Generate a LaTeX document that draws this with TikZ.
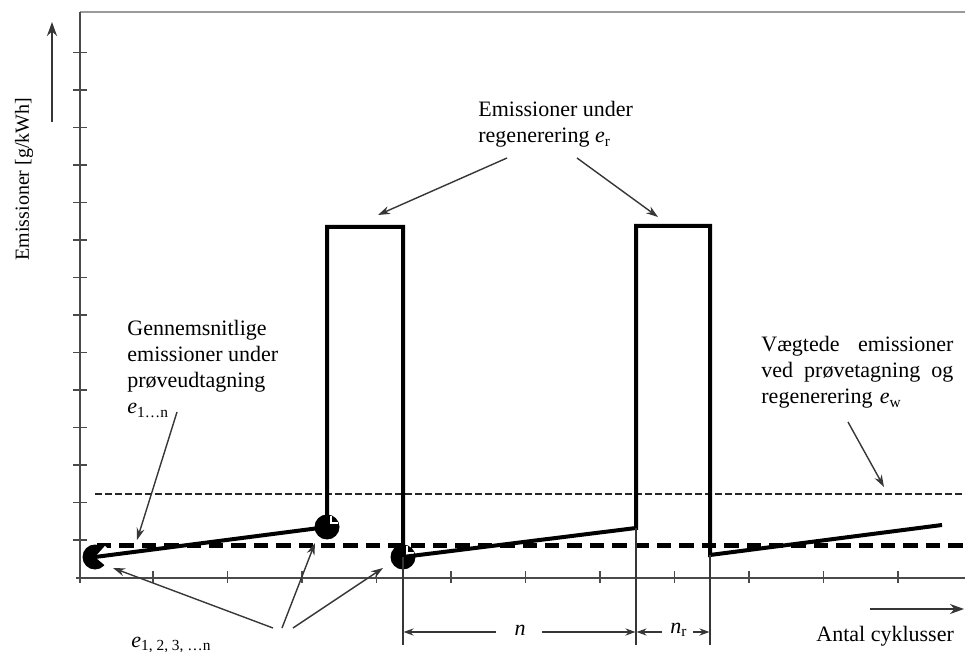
\documentclass[tikz,border=0pt]{standalone}
\usepackage{fontspec}
\setmainfont{Liberation Serif}
\usetikzlibrary{arrows.meta}
\definecolor{axisgray}{HTML}{4A4A4A}
\definecolor{thingray}{HTML}{363636}
\definecolor{framegray}{HTML}{9A9A9A}
\newcommand{\lblfont}{\fontsize{11pt}{13pt}\selectfont}
\tikzset{
  axisline/.style={draw=axisgray,line width=1pt},
  frameline/.style={draw=framegray,line width=0.6pt},
  tickline/.style={draw=axisgray,line width=0.55pt},
  curve/.style={draw=black,line width=2pt,line join=miter},
  meanline/.style={draw=black,line width=2.5pt,dash pattern=on 7.2pt off 4pt},
  weightline/.style={draw=black!85,line width=1.2pt,dash pattern=on 3.4pt off 1.6pt},
  pointer/.style={draw=thingray,line width=0.7pt,-{Stealth[length=6pt,width=4pt]}},
  dimline/.style={draw=thingray,line width=0.55pt},
  dimarrow/.style={draw=thingray,line width=0.6pt,-{Stealth[length=5pt,width=3.6pt]}},
  % labels are placed by a baseline: the last line for free multi-line text,
  % the first line for text set to a fixed width
  txtlabel/.style={font=\lblfont,inner sep=0pt,align=left,anchor=base west},
  % sample point at the start of the series: disc with an opening to the right
  pics/startdot/.style={code={
    \fill[black] (0,0) circle[radius=12.5];
    \fill[white] (0,0) -- (-48:15) arc[start angle=-48,end angle=40,radius=15] -- cycle;
  }},
  % sample point at a corner of the curve: disc with a white corner mark
  pics/cornerdot/.style={code={
    \fill[black] (0,0) circle[radius=12.5];
    \draw[white,line width=1.3pt] (3.8,-11) -- (3.8,-3.8) -- (11,-3.8);
  }},
}
\begin{document}
\begin{tikzpicture}[x=0.5pt,y=-0.5pt]
  \fill[white] (0,0) rectangle (965,652);
  \useasboundingbox (0,0) rectangle (965,652);

  % frame and axes
  \draw[frameline] (80,12) -- (965,12);
  \draw[axisline] (80,12) -- (80,583);
  \draw[axisline] (76,578) -- (965,578);
  \foreach \ty in {52.5,90,...,541}
    \draw[tickline] (73,\ty) -- (87,\ty);
  \foreach \tx in {153,227.5,...,899}
    \draw[tickline] (\tx,571) -- (\tx,583);

  % axis titles
  \coordinate (ytail) at (52,122);
  \coordinate (yhead) at (52,22);
  \draw[draw=thingray,line width=1pt,-{Stealth[length=7pt,width=5pt]}] (ytail) -- (yhead);
  \node[font=\fontsize{10pt}{12pt}\selectfont,rotate=90,inner sep=0pt] (ylab) at (24,179) {Emissioner [g/kWh]};
  \coordinate (xtail) at (870,609);
  \coordinate (xhead) at (964,609);
  \draw[draw=thingray,line width=1pt,-{Stealth[length=7pt,width=5pt]}] (xtail) -- (xhead);
  \node[txtlabel] (xlab) at (816,641) {Antal cyklusser};

  % reference levels
  \draw[weightline] (95,494) -- (965,494);
  \draw[meanline] (97,545) -- (965,545);

  % sample points
  \coordinate (p1) at (95,557);
  \coordinate (p2) at (327,527);
  \coordinate (p3) at (403,557);
  \coordinate (p4) at (636,528);
  \coordinate (p5) at (710,555);
  \coordinate (p6) at (942,525);
  \pic at (p1) {startdot};
  \pic at (p2) {cornerdot};
  \pic at (p3) {cornerdot};

  % emission curve with two regeneration blocks
  \draw[curve] (p1) -- (p2) -- (327,227) -- (403,227) -- (p3)
               -- (p4) -- (636,226) -- (710,226) -- (p5) -- (p6);

  % cycle counts
  \coordinate (d1) at (403,645);
  \coordinate (d2) at (636,645);
  \coordinate (d3) at (710,645);
  \draw[dimline] (p3) -- (d1);
  \draw[dimline] (p4) -- (d2);
  \draw[dimline] (p5) -- (d3);
  \node[font=\lblfont\itshape,inner sep=0pt] (nlab) at (520,630) {n};
  \draw[dimarrow] (496,632) -- (403.6,632);
  \draw[dimarrow] (542,632) -- (635.4,632);
  \node[font=\lblfont,inner sep=0pt] (nrlab) at (679,630) {\textit{n}\textsubscript{r}};
  \draw[dimarrow] (662,632) -- (636.6,632);
  \draw[dimarrow] (693,632) -- (709.4,632);

  % annotations
  \node[txtlabel] (regen) at (478,143)
    {Emissioner under\\regenerering \textit{e}\textsubscript{r}};
  \coordinate (r1) at (507,158);
  \coordinate (r2) at (577,158);
  \draw[pointer] (r1) -- (378,215);
  \draw[pointer] (r2) -- (658,217);

  \node[txtlabel] (mean) at (127,414)
    {Gennemsnitlige\\emissioner under\\prøveudtagning\\\textit{e}\textsubscript{1…n}};
  \coordinate (m1) at (177,412);
  \draw[pointer] (m1) -- (137,540);

  \node[txtlabel,text width=96pt] (weighted) at (761,352)
    {Vægtede\hfill emissioner\\ved\hfill prøvetagning\hfill og\\regenerering \textit{e}\textsubscript{w}};
  \coordinate (w1) at (848,422);
  \draw[pointer] (w1) -- (884,487);

  \node[txtlabel] (samples) at (131,647) {\textit{e}\textsubscript{1, 2, 3, …n}};
  \coordinate (s1) at (273,628);
  \coordinate (s2) at (282,628);
  \coordinate (s3) at (293,628);
  \draw[pointer] (s1) -- (113,568);
  \draw[pointer] (s2) -- (315,543);
  \draw[pointer] (s3) -- (383,568);
\end{tikzpicture}
\end{document}
